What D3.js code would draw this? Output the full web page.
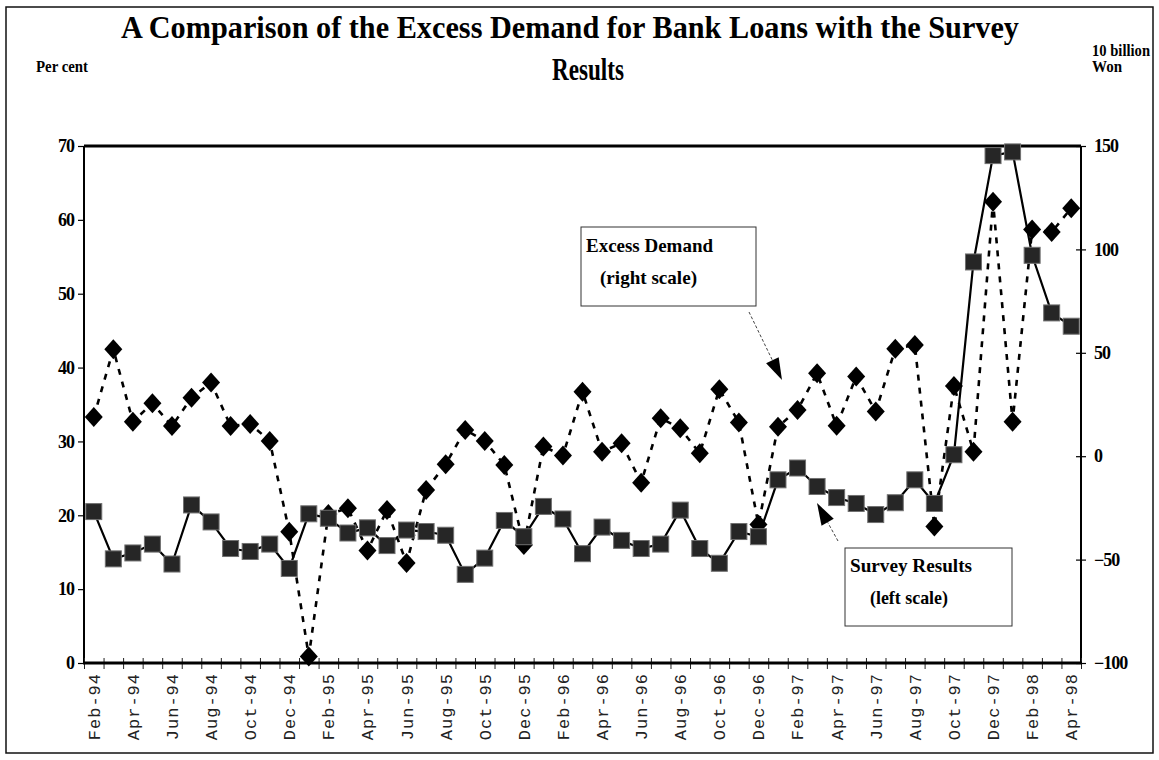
<!DOCTYPE html>
<html>
<head>
<meta charset="utf-8">
<script src="https://cdn.jsdelivr.net/npm/d3@7"></script>
<style>
  body { margin: 0; background: #fff; }
  svg { display: block; }
</style>
</head>
<body>
<svg id="chart" width="1159" height="760"></svg>
<script>
// Monthly observations, Feb 1994 – Apr 1998
const months = [
  "Feb-94","Mar-94","Apr-94","May-94","Jun-94","Jul-94","Aug-94","Sep-94","Oct-94","Nov-94","Dec-94",
  "Jan-95","Feb-95","Mar-95","Apr-95","May-95","Jun-95","Jul-95","Aug-95","Sep-95","Oct-95","Nov-95","Dec-95",
  "Jan-96","Feb-96","Mar-96","Apr-96","May-96","Jun-96","Jul-96","Aug-96","Sep-96","Oct-96","Nov-96","Dec-96",
  "Jan-97","Feb-97","Mar-97","Apr-97","May-97","Jun-97","Jul-97","Aug-97","Sep-97","Oct-97","Nov-97","Dec-97",
  "Jan-98","Feb-98","Mar-98","Apr-98"
];

// Survey results, per cent (left scale)
const surveyResults = [
  20.5, 14.1, 14.9, 16.1, 13.4, 21.4, 19.1, 15.5, 15.1, 16.1, 12.8,
  20.2, 19.6, 17.6, 18.3, 15.9, 18.0, 17.8, 17.3, 12.0, 14.2, 19.3, 17.1,
  21.2, 19.5, 14.8, 18.4, 16.6, 15.5, 16.1, 20.7, 15.5, 13.5, 17.8, 17.1,
  24.8, 26.4, 23.9, 22.4, 21.6, 20.1, 21.7, 24.8, 21.6, 28.2, 54.3, 68.7,
  69.2, 55.2, 47.4, 45.6
];

// Excess demand for bank loans, 10 billion won (right scale)
const excessDemand = [
  18.9, 51.7, 16.7, 25.6, 14.6, 28.3, 35.6, 14.6, 15.6, 7.4, -36.5,
  -96.9, -28.0, -25.2, -45.6, -26.0, -51.7, -16.3, -3.9, 12.7, 7.4, -4.2, -42.9,
  4.7, 0.3, 31.2, 2.2, 6.3, -12.8, 18.4, 13.5, 1.4, 32.4, 16.3, -33.0,
  14.3, 22.4, 40.1, 14.7, 38.5, 21.6, 51.9, 53.8, -34.0, 34.0, 2.2, 123.1,
  16.7, 109.6, 108.4, 119.9
];

const leftTicks = [0, 10, 20, 30, 40, 50, 60, 70];
const rightTicks = [-100, -50, 0, 50, 100, 150];
const monthLabels = months.filter((m, i) => i % 2 === 0);

const svg = d3.select("#chart");
const W = 1159, H = 760;
const plot = { left: 84, right: 1081, top: 146, bottom: 663 };
const serif = "'Liberation Serif', 'Times New Roman', serif";

// Outer frame
svg.append("rect")
  .attr("x", 6).attr("y", 7).attr("width", W - 12).attr("height", H - 14)
  .attr("fill", "none").attr("stroke", "#111").attr("stroke-width", 1.5);

// Scales
const x = d3.scaleBand().domain(months).range([plot.left, plot.right]).padding(0);
const xEdge = d3.scaleLinear().domain([0, months.length]).range([plot.left, plot.right]);
const yL = d3.scaleLinear().domain([0, 70]).range([plot.bottom, plot.top]);
const yR = d3.scaleLinear().domain([-100, 150]).range([plot.bottom, plot.top]);
const cx = m => x(m) + x.bandwidth() / 2;

// Title
svg.append("text")
  .attr("x", 570).attr("y", 38)
  .attr("text-anchor", "middle")
  .attr("font-family", serif).attr("font-weight", "bold").attr("font-size", 31)
  .attr("textLength", 898).attr("lengthAdjust", "spacingAndGlyphs")
  .text("A Comparison of the Excess Demand for Bank Loans with the Survey");
svg.append("text")
  .attr("x", 588).attr("y", 80)
  .attr("text-anchor", "middle")
  .attr("font-family", serif).attr("font-weight", "bold").attr("font-size", 31)
  .attr("textLength", 72).attr("lengthAdjust", "spacingAndGlyphs")
  .text("Results");

// Axis unit captions
const caption = (tx, ty, s, len) => svg.append("text")
  .attr("x", tx).attr("y", ty)
  .attr("font-family", serif).attr("font-weight", "bold").attr("font-size", 16)
  .attr("textLength", len).attr("lengthAdjust", "spacingAndGlyphs")
  .text(s);
caption(36, 72, "Per cent", 52);
caption(1092, 56, "10 billion", 58);
caption(1092, 72, "Won", 30);

// Plot frame: top and side borders
svg.append("line")
  .attr("x1", plot.left).attr("x2", plot.right).attr("y1", plot.top).attr("y2", plot.top)
  .attr("stroke", "#000").attr("stroke-width", 3);
svg.append("line")
  .attr("x1", plot.left).attr("x2", plot.left).attr("y1", plot.top).attr("y2", plot.bottom)
  .attr("stroke", "#000").attr("stroke-width", 2);
svg.append("line")
  .attr("x1", plot.right).attr("x2", plot.right).attr("y1", plot.top).attr("y2", plot.bottom)
  .attr("stroke", "#000").attr("stroke-width", 2);

// Left axis
const gL = svg.append("g")
  .attr("transform", `translate(${plot.left},0)`)
  .call(d3.axisLeft(yL).tickValues(leftTicks).tickSize(6).tickPadding(4).tickFormat(d3.format("d")));
gL.select(".domain").remove();
gL.selectAll("line").attr("stroke", "#000").attr("stroke-width", 1.2);
gL.selectAll("text")
  .attr("font-family", serif).attr("font-weight", "bold").attr("font-size", 18)
  .attr("letter-spacing", -1).attr("fill", "#000");

// Right axis
const gR = svg.append("g")
  .attr("transform", `translate(${plot.right},0)`)
  .call(d3.axisRight(yR).tickValues(rightTicks).tickSize(5).tickPadding(8).tickFormat(d3.format("d")));
gR.select(".domain").remove();
gR.selectAll("line").attr("stroke", "#000").attr("stroke-width", 1.2).attr("x1", -5);
gR.selectAll("text")
  .attr("font-family", serif).attr("font-weight", "bold").attr("font-size", 18)
  .attr("letter-spacing", -1).attr("fill", "#000");

// Bottom axis: boundary ticks crossing the axis line
const gTicksDown = svg.append("g")
  .attr("transform", `translate(0,${plot.bottom})`)
  .call(d3.axisBottom(xEdge).tickValues(d3.range(months.length + 1)).tickSize(6).tickFormat(""));
const gTicksUp = svg.append("g")
  .attr("transform", `translate(0,${plot.bottom})`)
  .call(d3.axisTop(xEdge).tickValues(d3.range(months.length + 1)).tickSize(5).tickFormat(""));
[gTicksDown, gTicksUp].forEach(g => {
  g.select(".domain").remove();
  g.selectAll("line").attr("stroke", "#222").attr("stroke-width", 1);
});
svg.append("line")
  .attr("x1", plot.left - 1).attr("x2", plot.right + 1).attr("y1", plot.bottom).attr("y2", plot.bottom)
  .attr("stroke", "#000").attr("stroke-width", 3);

// Bottom axis: month labels (every second month), rotated
const gB = svg.append("g")
  .attr("transform", `translate(0,${plot.bottom})`)
  .call(d3.axisBottom(x).tickValues(monthLabels).tickSize(0).tickPadding(0));
gB.select(".domain").remove();
gB.selectAll("text")
  .attr("font-family", "'Liberation Mono', 'Courier New', monospace")
  .attr("font-size", 17).attr("letter-spacing", 1).attr("fill", "#222")
  .attr("text-anchor", "end")
  .attr("transform", "rotate(-90)")
  .attr("x", -10).attr("y", 0).attr("dy", "0.35em");

// Excess demand: dashed line with diamond markers
const lineR = d3.line().x((d, i) => cx(months[i])).y(d => yR(d));
svg.append("path")
  .datum(excessDemand)
  .attr("d", lineR)
  .attr("fill", "none").attr("stroke", "#000")
  .attr("stroke-width", 2.6).attr("stroke-dasharray", "6,7");
svg.append("g").selectAll("path")
  .data(excessDemand)
  .join("path")
  .attr("transform", (d, i) => `translate(${cx(months[i])},${yR(d)})`)
  .attr("d", "M0,-10L9,0L0,10L-9,0Z")
  .attr("fill", "#000");

// Survey results: solid line with square markers
const lineL = d3.line().x((d, i) => cx(months[i])).y(d => yL(d));
svg.append("path")
  .datum(surveyResults)
  .attr("d", lineL)
  .attr("fill", "none").attr("stroke", "#000").attr("stroke-width", 2.2);
svg.append("g").selectAll("rect")
  .data(surveyResults)
  .join("rect")
  .attr("x", (d, i) => cx(months[i]) - 8)
  .attr("y", d => yL(d) - 8)
  .attr("width", 16).attr("height", 16)
  .attr("fill", "#262626").attr("stroke", "#707070").attr("stroke-width", 1);

// Callout boxes with arrows
function callout(box, lines, from, tip) {
  svg.append("rect")
    .attr("x", box.x).attr("y", box.y).attr("width", box.w).attr("height", box.h)
    .attr("fill", "#fff").attr("stroke", "#333").attr("stroke-width", 1);
  lines.forEach(l => {
    svg.append("text")
      .attr("x", l.x).attr("y", l.y)
      .attr("font-family", serif).attr("font-weight", "bold").attr("font-size", 19)
      .attr("textLength", l.len).attr("lengthAdjust", "spacingAndGlyphs")
      .text(l.text);
  });
  const dx = tip[0] - from[0], dy = tip[1] - from[1];
  const len = Math.hypot(dx, dy), ux = dx / len, uy = dy / len;
  const headLen = 22, halfW = 7;
  const bx = tip[0] - ux * headLen, by = tip[1] - uy * headLen;
  svg.append("line")
    .attr("x1", from[0]).attr("y1", from[1]).attr("x2", bx).attr("y2", by)
    .attr("stroke", "#444").attr("stroke-width", 1).attr("stroke-dasharray", "3,2");
  svg.append("path")
    .attr("d", `M${tip[0]},${tip[1]}L${bx - uy * halfW},${by + ux * halfW}L${bx + uy * halfW},${by - ux * halfW}Z`)
    .attr("fill", "#000");
}

callout({ x: 581, y: 227, w: 175, h: 79 },
  [{ text: "Excess Demand", x: 586, y: 252, len: 127 },
   { text: "(right scale)", x: 600, y: 284, len: 97 }],
  [749, 312], [782, 380]);

callout({ x: 845, y: 548, w: 167, h: 78 },
  [{ text: "Survey Results", x: 850, y: 572, len: 122 },
   { text: "(left scale)", x: 870, y: 604, len: 78 }],
  [838, 541], [817, 503]);
</script>
</body>
</html>
